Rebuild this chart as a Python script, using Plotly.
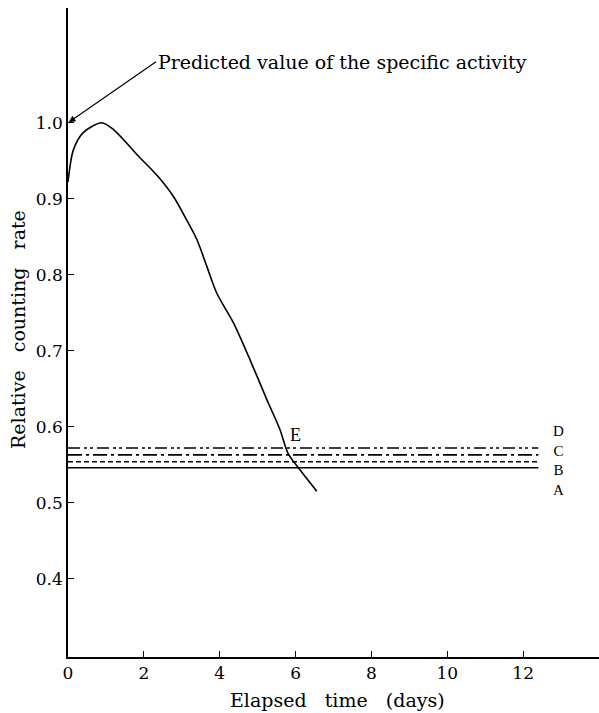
import plotly.graph_objects as go

# Curve E (elapsed time in days, relative counting rate)
curve_x = [0.0, 0.14, 0.4, 0.89, 1.2, 1.86, 2.38, 2.78, 3.13, 3.4, 3.66, 3.92, 4.36, 4.8, 5.24, 5.59, 5.8, 6.12, 6.56]
curve_y = [0.922, 0.964, 0.987, 1.0, 0.991, 0.956, 0.929, 0.903, 0.872, 0.846, 0.811, 0.776, 0.737, 0.688, 0.636, 0.596, 0.565, 0.543, 0.515]

# Horizontal levels A-D
level_names = ["A", "B", "C", "D"]
level_values = [0.546, 0.554, 0.563, 0.572]
level_end = 12.4
level_dash = ["solid", "5px,3px", "14px,4px,3px,4px", "12px,4px,3px,3px,3px,4px"]

x_tickvals = [0, 2, 4, 6, 8, 10, 12]
x_ticktext = ["0", "2", "4", "6", "8", "10", "12"]
y_tickvals = [0.4, 0.5, 0.6, 0.7, 0.8, 0.9, 1.0]
y_ticktext = ["0.4", "0.5", "0.6", "0.7", "0.8", "0.9", "1.0"]

FONT = "DejaVu Serif"
FONT2 = "Liberation Serif"

fig = go.Figure()

for name, val, dash in zip(level_names, level_values, level_dash):
    fig.add_trace(go.Scatter(
        x=[0, level_end], y=[val, val], mode="lines",
        line=dict(color="black", width=1.6, dash=dash),
        showlegend=False, hoverinfo="skip"))

fig.add_trace(go.Scatter(
    x=curve_x, y=curve_y, mode="lines",
    line=dict(color="black", width=1.6, shape="spline", smoothing=0.8),
    showlegend=False))

annotations = []
# stacked level labels (top to bottom: D, C, B, A)
annotations.append(dict(x=12.93, y=0.556, xref="x", yref="y",
                        text="<br>".join(reversed(level_names)),
                        showarrow=False, xanchor="center", yanchor="middle",
                        font=dict(family=FONT2, size=15, color="black")))
annotations.append(dict(x=5.99, y=0.589, xref="x", yref="y", text="E",
                        showarrow=False, xanchor="center", yanchor="middle",
                        font=dict(family=FONT2, size=18, color="black")))
annotations.append(dict(x=0, y=1.0, xref="x", yref="y",
                        text="Predicted value of the specific activity",
                        showarrow=True, arrowhead=2, arrowsize=1.1, arrowwidth=1.2,
                        arrowcolor="black", ax=88, ay=-61, xanchor="left",
                        yanchor="middle", standoff=1,
                        font=dict(family=FONT, size=19, color="black")))
annotations.append(dict(x=0.508, y=-0.066, xref="paper", yref="paper",
                        text="Elapsed   time   (days)", showarrow=False,
                        xanchor="center", yanchor="middle",
                        font=dict(family=FONT, size=19, color="black")))
annotations.append(dict(x=-0.094, y=0.504, xref="paper", yref="paper",
                        text="Relative   counting   rate", showarrow=False, textangle=-90,
                        xanchor="center", yanchor="middle",
                        font=dict(family=FONT, size=19, color="black")))
fig.update_layout(annotations=annotations)

fig.update_layout(
    width=599, height=713,
    margin=dict(l=68, r=0, t=8, b=56),
    plot_bgcolor="white", paper_bgcolor="white",
    font=dict(family=FONT, size=17, color="black"),
    xaxis=dict(range=[0, 14.0], showline=True, linecolor="black", linewidth=1.5,
               showgrid=False, zeroline=False, ticks="inside", ticklen=6,
               tickcolor="black", tickvals=x_tickvals, ticktext=x_ticktext,
               tickfont=dict(family=FONT, size=17)),
    yaxis=dict(range=[0.297, 1.151], showline=True, linecolor="black", linewidth=1.5,
               showgrid=False, zeroline=False, ticks="inside", ticklen=6,
               tickcolor="black", tickvals=y_tickvals, ticktext=y_ticktext,
               tickfont=dict(family=FONT, size=17)),
)

fig.write_html("out.html")
